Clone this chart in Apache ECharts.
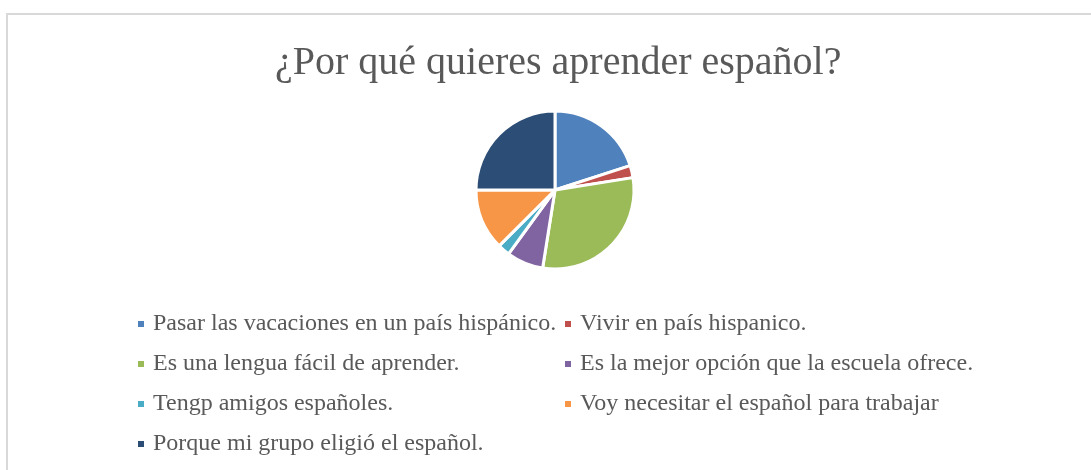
<!DOCTYPE html>
<html>
<head>
<meta charset="utf-8">
<title>¿Por qué quieres aprender español?</title>
<script src="https://cdn.jsdelivr.net/npm/echarts@6/dist/echarts.min.js"></script>
<style>
  html, body { margin: 0; padding: 0; background: #fff; }
  #grafico { width: 1091px; height: 470px; }
</style>
</head>
<body>
<div id="grafico"></div>
<script>
// Datos de la encuesta
var titulo = "¿Por qué quieres aprender español?";
var motivos = [
    "Pasar las vacaciones en un país hispánico.",
    "Vivir en país hispanico.",
    "Es una lengua fácil de aprender.",
    "Es la mejor opción que la escuela ofrece.",
    "Tengp amigos españoles.",
    "Voy necesitar el español para trabajar",
    "Porque mi grupo eligió el español."
];
var respuestas = [8, 1, 12, 3, 1, 5, 10];
var colores = ["#4f81bd", "#c0504d", "#9bbb59", "#8064a2", "#4bacc6", "#f79646", "#2c4d75"];

var grafico = echarts.init(document.getElementById("grafico"));

var datos = motivos.map(function (m, i) {
    return { name: m, value: respuestas[i], itemStyle: { color: colores[i] } };
});

// Dos leyendas para imitar la rejilla de dos columnas
var textoLeyenda = {
    fontFamily: "Liberation Serif",
    fontSize: 24,
    color: "#595959",
    lineHeight: 24,
    padding: [0, 0, 0, 3]
};

function leyenda(izq, nombres) {
    return {
        orient: "vertical",
        left: izq,
        top: 312,
        padding: 0,
        itemWidth: 8,
        itemHeight: 8,
        itemGap: 16,
        icon: "rect",
        selectedMode: false,
        data: nombres,
        textStyle: textoLeyenda
    };
}

var opciones = {
    animation: false,
    title: {
        text: titulo,
        left: 270,
        top: 38,
        textStyle: {
            fontFamily: "Liberation Serif",
            fontWeight: "normal",
            fontSize: 40,
            color: "#595959"
        }
    },
    graphic: [{
        type: "polyline",
        shape: { points: [[7, 470], [7, 14], [1091, 14]] },
        style: { stroke: "#d9d9d9", lineWidth: 2, fill: null }
    }],
    legend: [
        leyenda(136, [motivos[0], motivos[2], motivos[4], motivos[6]]),
        leyenda(563, [motivos[1], motivos[3], motivos[5]])
    ],
    series: [{
        type: "pie",
        center: [555, 190],
        radius: 79,
        startAngle: 90,
        clockwise: true,
        label: { show: false },
        labelLine: { show: false },
        emphasis: { disabled: true },
        itemStyle: { borderColor: "#ffffff", borderWidth: 3 },
        data: datos
    }]
};

grafico.setOption(opciones);
</script>
</body>
</html>
